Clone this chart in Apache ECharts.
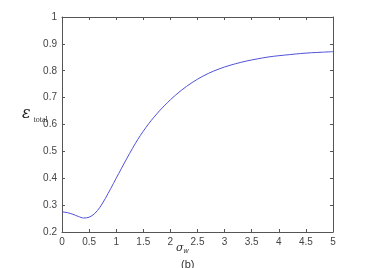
<!DOCTYPE html>
<html><head><meta charset="utf-8">
<script src="https://cdn.jsdelivr.net/npm/echarts@6/dist/echarts.min.js"></script>
<style>html,body{margin:0;padding:0;background:#fff}#c{width:366px;height:268px}</style>
</head><body><div id="c"></div>
<script>
const sigma = [0,0.1,0.2,0.3,0.4,0.5,0.6,0.7,0.8,0.9,1.0,1.2,1.4,1.6,1.8,2.0,2.2,2.4,2.6,2.8,3.0,3.2,3.4,3.6,3.8,4.0,4.2,4.4,4.6,4.8,5.0];
const epsTotal = [0.275,0.272,0.266,0.258,0.252,0.255,0.268,0.292,0.325,0.362,0.400,0.475,0.545,0.603,0.651,0.692,0.727,0.756,0.780,0.799,0.814,0.826,0.836,0.844,0.851,0.856,0.860,0.864,0.867,0.869,0.871];
const xTicks = {min:0, max:5, step:0.5};
const yTicks = {min:0.2, max:1, step:0.1};

const chart = echarts.init(document.getElementById('c'));
const axisCol = '#555';
const labCol = '#444';
const font = 'Arial, Liberation Sans, sans-serif';
const tickStyle = {show:true, inside:true, length:3, lineStyle:{color:axisCol}};
chart.setOption({
  animation:false,
  grid:{left:62, right:33, top:17, bottom:36},
  xAxis:[{
    type:'value', min:xTicks.min, max:xTicks.max, interval:xTicks.step,
    axisLine:{onZero:false, lineStyle:{color:axisCol}}, axisTick:tickStyle, splitLine:{show:false},
    axisLabel:{color:labCol, fontSize:10, fontFamily:font, margin:5}
  },{
    type:'value', position:'top', min:xTicks.min, max:xTicks.max, interval:xTicks.step,
    axisLine:{onZero:false, lineStyle:{color:axisCol}}, axisTick:tickStyle, splitLine:{show:false},
    axisLabel:{show:false}
  }],
  yAxis:[{
    type:'value', min:yTicks.min, max:yTicks.max, interval:yTicks.step,
    axisLine:{show:true, onZero:false, lineStyle:{color:axisCol}}, axisTick:tickStyle, splitLine:{show:false},
    axisLabel:{color:labCol, fontSize:10, fontFamily:font, margin:5, formatter:v=>String(+v.toFixed(1))}
  },{
    type:'value', position:'right', min:yTicks.min, max:yTicks.max, interval:yTicks.step,
    axisLine:{show:true, onZero:false, lineStyle:{color:axisCol}}, axisTick:tickStyle, splitLine:{show:false},
    axisLabel:{show:false}
  }],
  series:[{
    type:'line', smooth:0.3, showSymbol:false, xAxisIndex:0, yAxisIndex:0,
    data: sigma.map((s,i)=>[s, epsTotal[i]]),
    lineStyle:{color:'#5050d8', width:1}
  }],
  graphic:[
    {type:'text', left:176, top:243, style:{
      text:'{a|σ}{b|w}', rich:{a:{fontSize:11, fontStyle:'italic', fontFamily:'DejaVu Serif', fill:'#333'}, b:{fontSize:7, fontStyle:'italic', fill:'#333', padding:[6,0,0,0]}}}},
    {type:'text', left:181, top:259, style:{text:'(b)', fontSize:11, fontFamily:font, fill:'#333'}},
    {type:'text', left:22, top:106, style:{
      text:'{a|ε}{b|total}', rich:{a:{fontSize:16, fontStyle:'italic', fontFamily:'DejaVu Serif', fill:'#222'}, b:{fontSize:8, fontFamily:'Liberation Serif', fill:'#333', padding:[12,0,0,3]}}}}
  ]
});
</script></body></html>
